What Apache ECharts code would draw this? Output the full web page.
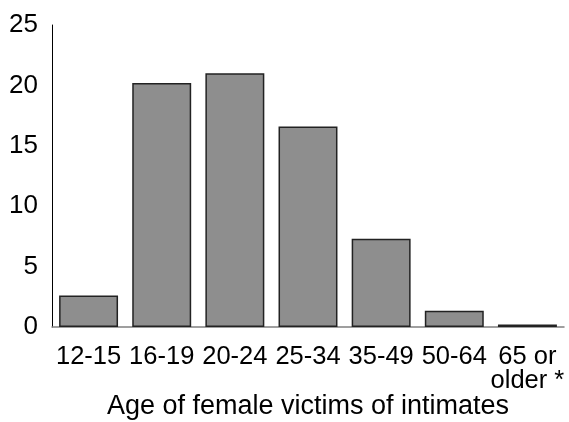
<!DOCTYPE html>
<html>
<head>
<meta charset="utf-8">
<script src="https://cdn.jsdelivr.net/npm/echarts@6/dist/echarts.min.js"></script>
<style>
html,body{margin:0;padding:0;background:#fff;}
#chart{width:569px;height:422px;}
</style>
</head>
<body>
<div id="chart"></div>
<script>
const categories = ['12-15', '16-19', '20-24', '25-34', '35-49', '50-64', '65 or\nolder *'];
const values = [2.6, 20.2, 21.0, 16.6, 7.3, 1.35, 0.2];
const yTicks = [0, 5, 10, 15, 20, 25];
const xAxisTitle = 'Age of female victims of intimates';

const chart = echarts.init(document.getElementById('chart'), null, {renderer: 'canvas'});
const font = '"Liberation Sans", Arial, sans-serif';
chart.setOption({
  animation: false,
  backgroundColor: '#ffffff',
  grid: {left: 52, right: 5, top: 25, bottom: 95, containLabel: false, outerBoundsMode: 'none'},
  xAxis: {
    type: 'category',
    data: categories,
    name: xAxisTitle,
    nameLocation: 'middle',
    nameGap: 66,
    nameMoveOverlap: false,
    nameTextStyle: {fontFamily: font, fontSize: 27, color: '#000'},
    axisLine: {show: true, lineStyle: {color: '#808080', width: 1.5}},
    axisTick: {show: false},
    axisLabel: {fontFamily: font, fontSize: 25.5, color: '#000', margin: 18, lineHeight: 24, interval: 0},
    splitLine: {show: false}
  },
  yAxis: {
    type: 'value',
    min: yTicks[0],
    max: yTicks[yTicks.length - 1],
    interval: 5,
    axisLine: {show: true, lineStyle: {color: '#000', width: 1}},
    axisTick: {show: false},
    axisLabel: {fontFamily: font, fontSize: 26, color: '#000', margin: 14},
    splitLine: {show: false}
  },
  series: [{
    type: 'bar',
    data: values,
    barCategoryGap: '19.4%',
    itemStyle: {color: '#8e8e8e', borderColor: '#222', borderWidth: 1.5}
  }]
});
</script>
</body>
</html>
